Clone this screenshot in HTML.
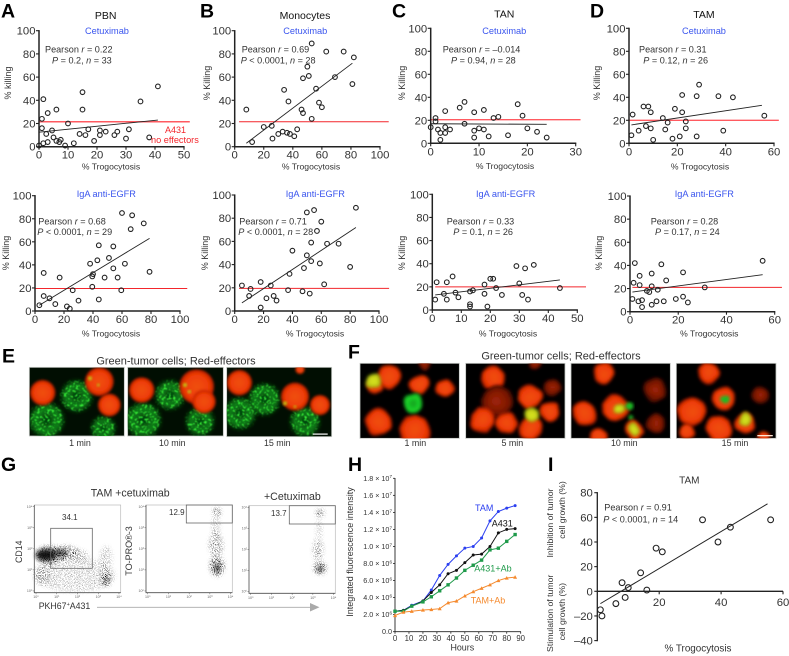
<!DOCTYPE html>
<html lang="en">
<head>
<meta charset="utf-8">
<title>Trogocytosis figure</title>
<style>
html,body{margin:0;padding:0;background:#fff;}
svg{display:block;font-family:"Liberation Sans",Arial,sans-serif;filter:blur(.25px);}
text{fill:#333;}
</style>
</head>
<body>
<svg id="fig" xmlns="http://www.w3.org/2000/svg" width="789" height="656" viewBox="0 0 789 656">
<defs>
<radialGradient id="redGrad"><stop offset="0" stop-color="#f0500e"/><stop offset=".72" stop-color="#ee3c06"/><stop offset="1" stop-color="#b81a00"/></radialGradient>
<radialGradient id="dimGrad"><stop offset="0" stop-color="#a02408"/><stop offset=".7" stop-color="#7a1604"/><stop offset="1" stop-color="#3a0800"/></radialGradient>
<radialGradient id="yelGrad"><stop offset="0" stop-color="#d8e81e"/><stop offset=".7" stop-color="#c8d018"/><stop offset="1" stop-color="#7a9a0c"/></radialGradient>
<radialGradient id="briGrad"><stop offset="0" stop-color="#0e9a1c"/><stop offset=".7" stop-color="#1ed82c"/><stop offset="1" stop-color="#0c8a14"/></radialGradient>
<radialGradient id="grnGrad"><stop offset="0" stop-color="#032a08"/><stop offset=".72" stop-color="#0c8a1c"/><stop offset="1" stop-color="#064c0e"/></radialGradient>
<filter id="soft" x="-30%" y="-30%" width="160%" height="160%"><feGaussianBlur stdDeviation="1.4"/></filter>
<filter id="softGreen" x="-30%" y="-30%" width="160%" height="160%"><feGaussianBlur stdDeviation="2.4"/></filter>
<filter id="mottle" x="-40%" y="-40%" width="180%" height="180%">
<feTurbulence type="fractalNoise" baseFrequency="0.06" numOctaves="2" seed="3" result="n"/>
<feDisplacementMap in="SourceGraphic" in2="n" scale="6" xChannelSelector="R" yChannelSelector="G"/>
<feGaussianBlur stdDeviation="1.7"/>
</filter>
<filter id="greenSpeck" x="-20%" y="-20%" width="140%" height="140%">
<feTurbulence type="fractalNoise" baseFrequency="0.42" numOctaves="2" seed="7" result="n"/>
<feColorMatrix in="n" type="matrix" values="0 0 0 0 0 0 0 0 0 0 0 0 0 0 0 8 0 0 0 -4.4" result="t"/>
<feGaussianBlur in="SourceGraphic" stdDeviation="1.8" result="b"/>
<feComposite in="b" in2="t" operator="in"/>
<feGaussianBlur stdDeviation="0.5"/>
</filter>
<filter id="flowSpeck" x="-40%" y="-40%" width="180%" height="180%">
<feTurbulence type="fractalNoise" baseFrequency="1.1" numOctaves="2" seed="4" result="n"/>
<feColorMatrix in="n" type="matrix" values="0 0 0 0 0 0 0 0 0 0 0 0 0 0 0 10 0 0 0 -5.2" result="t"/>
<feGaussianBlur in="SourceGraphic" stdDeviation="2" result="b"/>
<feComposite in="b" in2="t" operator="in"/>
</filter>
<filter id="flowCore" x="-40%" y="-40%" width="180%" height="180%"><feGaussianBlur stdDeviation="2"/></filter>
</defs>
</svg>
<script>
/* ---------- chart data ---------- */
const ticks100 = [0, 20, 40, 60, 80, 100];
const ticks50 = [0, 10, 20, 30, 40, 50];
const ticks30 = [0, 10, 20, 30];
const ticks60 = [0, 20, 40, 60];

const panelAX = [0,1,1,1.5,1.5,2.5,3,3,4.5,5,6,6,7,7.5,9,10,12,14,15,15,16,17,19,21,21,23,26,27,30,31,35,38,41];
const panelAY = [1,16,24,41,3,11,4,29,14,8,5,32,4,6,1,20,3,11,32,47,10,15,5,10,14,13,10,13,7,15,39,8,52];
const panelAFitX = [0, 41];
const panelAFitY = [12.5, 23];
const panelARedX = [0, 52];
const panelARedY = [21.5, 21.5];

const panelBX = [8,12,20,25.5,26,30,33,34,36,37,38,41,43,46,47,47,50,51,53,53,56,58,60,63,69,75,81,82];
const panelBY = [32,4,17,18,7,11,13,49,12,39,11,9,15,32,59,29,69,61,89,24,50,38,34,82,60,82,54,77];
const panelBFitX = [8, 81];
const panelBFitY = [3, 72];
const panelBRedX = [3, 106];
const panelBRedY = [21.5, 21.5];

const panelCX = [0,1,1,1.5,2,2,3,3,3,4,6,7,7,9,9,9,10,11,11,12,13,14,16,18,19,20,22,24];
const panelCY = [14,22,19,12,9,3,28,14,9,12,31,36,17,11,5,27,13,29,12,6,22,23,7,34,24,13,10,5];
const panelCFitX = [0, 24];
const panelCFitY = [17, 16.5];
const panelCRedX = [0, 31];
const panelCRedY = [20.5, 20.5];

const panelDX = [1,1.5,4,6,8,7,9,9,10,14,15,16,18,19,21,22,22,23.5,23.5,28,28,29,37,39,43,56];
const panelDY = [7,25,11,32,32,15,27,13,3,22,12,18,4,30,6,42,27,19,13,41,6,51,41,11,40,24];
const panelDFitX = [1, 55];
const panelDFitY = [16, 33];
const panelDRedX = [0, 62];
const panelDRedY = [20, 20];

const panelA2X = [3,6,6,10,14,17,22,24,26,30,38,39.5,40,39.5,43,44,44,48,51,54,54,57,59.5,60,62,66,67,75,79];
const panelA2Y = [5,33,13,11,6,29,4,2,18,9,41,30,32,21,44,57,10,29,46,37,56,29,18,85,41,71,83,76,34];
const panelA2FitX = [3, 79];
const panelA2FitY = [5, 63];
const panelA2RedX = [0, 105];
const panelA2RedY = [19.5, 19.5];

const panelB2X = [5,10,11,18,18,22,25,27,29,37,38,40,47,48,50,50,52,53,53,55,57,59,60,62,64,72,80,84];
const panelB2Y = [22,13,19,25,3,11,22,13,9,18,32,52,17,37,85,48,15,59,43,87,69,41,77,23,58,58,38,89];
const panelB2FitX = [5, 84];
const panelB2FitY = [7, 72];
const panelB2RedX = [3, 107];
const panelB2RedY = [19.5, 19.5];

const panelC2X = [1,1.5,4,5,5,7,8,9,13,13,13,14,18,18,19,20,21,22,24,29,30,31,32,33,35,44];
const panelC2Y = [9,24,14,24,9,29,15,11,5,3,16,17,22,14,3,27,27,19,13,38,23,13,36,9,39,19];
const panelC2FitX = [1, 44];
const panelC2FitY = [13, 26];
const panelC2RedX = [1, 53];
const panelC2RedY = [20, 20];

const panelD2X = [1,1.5,2,3.5,4,4,5,5,7,8,9,9,9,11,11.5,13,14,15,19,22,22,24,31,55];
const panelD2Y = [11,25,42,9,23,31,10,4,18,17,33,22,6,9,19,41,9,27,11,13,34,8,21,44];
const panelD2FitX = [1, 55];
const panelD2FitY = [17, 32];
const panelD2RedX = [1, 63];
const panelD2RedY = [21, 21];

const hoursX = [0,6,12,20,26,32,38,44,50,56,62,68,74,80,86];
const seriesTAM = [2.4,2.5,3.1,3.6,4.9,6.6,7.9,8.9,9.8,10,11,13,14.1,14.5,14.8];
const seriesA431 = [2.4,2.5,3.0,3.6,4.6,5.5,6.8,7.2,8.1,9.0,9.1,10,11.6,12,12.1];
const seriesA431Ab = [2.4,2.4,3.0,3.5,4.1,4.8,5.5,6.3,7.2,7.8,8.4,9.6,9.8,10.6,11.4];
const seriesTAMAb = [1.9,2.3,2.4,2.55,2.6,2.7,3.4,3.6,4.2,4.7,5.1,5.5,6,6.3,6.4];
const hXTicks = [0,10,20,30,40,50,60,70,80,90];
const hYTicks = [0,2,4,6,8,10,12,14,16,18];
const hYTickMant = ['0.0','2.0','4.0','6.0','8.0','1.0','1.2','1.4','1.6','1.8'];
const hYTickExp = ['','6','6','6','6','7','7','7','7','7'];

const panelIX = [1,1.5,6,8,9,10,14,16,19,21,34,39,43,56];
const panelIY = [-15,-20,-10,7,-5,3,15,1,35,32,58,40,52,58];
const panelIFitX = [1, 55];
const panelIFitY = [-10, 71];
const iXTicks = [20, 40, 60];
const iYTicks = [-40,-20,0,20,40,60,80];

/* ---------- helpers ---------- */
const NS = 'http://www.w3.org/2000/svg';
const svg = document.getElementById('fig');
function mk(tag, attrs, parent) {
  const el = document.createElementNS(NS, tag);
  for (const k in attrs) el.setAttribute(k, attrs[k]);
  (parent || svg).appendChild(el);
  return el;
}
function linear(d0, d1, r0, r1) {
  return function (v) { return r0 + (v - d0) / (d1 - d0) * (r1 - r0); };
}
/* "a|b|c": odd segments are italic */
function txt(parent, x, y, str, size, attrs) {
  const a = Object.assign({ x: x, y: y, 'font-size': size }, attrs || {});
  const t = mk('text', a, parent);
  String(str).split('|').forEach(function (seg, i) {
    const s = mk('tspan', i % 2 ? { 'font-style': 'italic' } : {}, t);
    s.textContent = seg;
  });
  return t;
}
function rotTxt(parent, x, y, str, size, attrs) {
  const a = Object.assign({ transform: 'rotate(-90 ' + x + ' ' + y + ')', 'text-anchor': 'middle' }, attrs || {});
  return txt(parent, x, y, str, size, a);
}

/* ---------- scatter panels ---------- */
const scatterPanels = [
 {n:'a-pbn',l:'A',lx:1,ly:17.5,xs:panelAX,ys:panelAY,fx:panelAFitX,fy:panelAFitY,rx:panelARedX,ry:panelARedY,xt:ticks50,xm:50,x0:39,x1:184,y0:146.7,y1:30.7,title:'PBN',tx:105.7,ty:19,ab:'Cetuximab',ax:85,ay:34,p1:'Pearson |r| = 0.22',p1x:45,p1y:52.7,p2:'|P| = 0.2, |n| = 33',p2x:52,p2y:63.3,yl:'% killing',ylx:11,yly:83,xlx:111,xly:169.5,redc:'#ff5a60',redw:1.4},
 {n:'b-monocytes',l:'B',lx:200,ly:17.5,xs:panelBX,ys:panelBY,fx:panelBFitX,fy:panelBFitY,rx:panelBRedX,ry:panelBRedY,xt:ticks100,xm:100,x0:234.7,x1:380,y0:146.7,y1:30.7,title:'Monocytes',tx:305,ty:19,ab:'Cetuximab',ax:283.3,ay:34,p1:'Pearson |r| = 0.69',p1x:241.7,p1y:52.7,p2:'|P| < 0.0001, |n| = 28',p2x:240.7,p2y:63.3,yl:'% Killing',ylx:210,yly:83,xlx:311,xly:169.5,redc:'#f3262c',redw:1},
 {n:'c-tan',l:'C',lx:392,ly:17.5,xs:panelCX,ys:panelCY,fx:panelCFitX,fy:panelCFitY,rx:panelCRedX,ry:panelCRedY,xt:ticks30,xm:30,x0:430.7,x1:575.7,y0:143.3,y1:28.3,title:'TAN',tx:504.3,ty:17.5,ab:'Cetuximab',ax:482.3,ay:34,p1:'Pearson |r| = –0.014',p1x:442.7,p1y:52.7,p2:'|P| = 0.94, |n| = 28',p2x:451,p2y:63.3,yl:'% Killing',ylx:405,yly:83,xlx:505,xly:169,redc:'#ff5a60',redw:1.4},
 {n:'d-tam',l:'D',lx:590,ly:17.5,xs:panelDX,ys:panelDY,fx:panelDFitX,fy:panelDFitY,rx:panelDRedX,ry:panelDRedY,xt:ticks60,xm:60,x0:629,x1:774,y0:143.3,y1:28.3,title:'TAM',tx:704,ty:18,ab:'Cetuximab',ax:682,ay:34,p1:'Pearson |r| = 0.31',p1x:639,p1y:52.7,p2:'|P| = 0.12, |n| = 26',p2x:643.3,p2y:63.3,yl:'% Killing',ylx:600,yly:83,xlx:700,xly:169.5,redc:'#ff5a60',redw:1.4},
 {n:'a2-pbn-iga',xs:panelA2X,ys:panelA2Y,fx:panelA2FitX,fy:panelA2FitY,rx:panelA2RedX,ry:panelA2RedY,xt:ticks100,xm:100,x0:35,x1:180,y0:311,y1:195.7,ab:'IgA anti-EGFR',ax:76.7,ay:197,p1:'Pearson |r| = 0.68',p1x:38.3,p1y:224.3,p2:'|P| < 0.0001, |n| = 29',p2x:37.3,p2y:235,yl:'% Killing',ylx:9,yly:253,xlx:111,xly:336.7,redc:'#f3262c',redw:1},
 {n:'b2-monocytes-iga',xs:panelB2X,ys:panelB2Y,fx:panelB2FitX,fy:panelB2FitY,rx:panelB2RedX,ry:panelB2RedY,xt:ticks100,xm:100,x0:234.7,x1:379,y0:311,y1:195,ab:'IgA anti-EGFR',ax:285.7,ay:197,p1:'Pearson |r| = 0.71',p1x:239.3,p1y:224.3,p2:'|P| < 0.0001, |n| = 28',p2x:238.3,p2y:235,yl:'% Killing',ylx:208,yly:253,xlx:315,xly:336.7,redc:'#f3262c',redw:1},
 {n:'c2-tan-iga',xs:panelC2X,ys:panelC2Y,fx:panelC2FitX,fy:panelC2FitY,rx:panelC2RedX,ry:panelC2RedY,xt:ticks50,xm:50,x0:432.3,x1:577.3,y0:310,y1:194.3,ab:'IgA anti-EGFR',ax:476,ay:197,p1:'Pearson |r| = 0.33',p1x:446.7,p1y:224.3,p2:'|P| = 0.1, |n| = 26',p2x:453.3,p2y:235,yl:'% Killing',ylx:405,yly:253,xlx:508,xly:336.7,redc:'#f3262c',redw:1},
 {n:'d2-tam-iga',xs:panelD2X,ys:panelD2Y,fx:panelD2FitX,fy:panelD2FitY,rx:panelD2RedX,ry:panelD2RedY,xt:ticks60,xm:60,x0:630,x1:774.7,y0:311.7,y1:196,ab:'IgA anti-EGFR',ax:674.7,ay:197,p1:'Pearson |r| = 0.28',p1x:650.7,p1y:224.3,p2:'|P| = 0.17, |n| = 24',p2x:655,p2y:235,yl:'% Killing',ylx:602,yly:253,xlx:709.3,xly:336.7,redc:'#f3262c',redw:1}
];

scatterPanels.forEach(function (p) {
  const g = mk('g', {});
  
  
  const sx = linear(0, p.xm, p.x0, p.x1);
  const sy = linear(0, 100, p.y0, p.y1);
  if (p.l) {
    const letter = txt(g, p.lx, p.ly, p.l, 19.5, { 'font-weight': 'bold', style: 'fill:#000' });
    
    
  }
  if (p.title) {
    const title = txt(g, p.tx, p.ty, p.title, 10.5, { 'text-anchor': 'middle', style: 'fill:#111' });
    
    
  }
  const ab = txt(g, p.ax, p.ay, p.ab, 9.2, { style: 'fill:#3a55ee' });
  
  
  const p1 = txt(g, p.p1x, p.p1y, p.p1, 9.1, {});
  
  
  const p2 = txt(g, p.p2x, p.p2y, p.p2, 9.1, {});
  
  
  const yl = rotTxt(g, p.ylx, p.yly, p.yl, 9, {});
  
  
  const xl = txt(g, p.xlx, p.xly, '% Trogocytosis', 8.6, { 'text-anchor': 'middle' });
  
  
  const red = mk('line', { x1: sx(p.rx[0]), x2: sx(p.rx[1]), y1: sy(p.ry[0]), y2: sy(p.ry[1]), stroke: p.redc, 'stroke-width': p.redw }, g);
  
  
  const yAxis = mk('line', { x1: p.x0, x2: p.x0, y1: p.y0 + .7, y2: p.y1 - .6, stroke: '#222', 'stroke-width': 1.5 }, g);
  
  
  const xAxis = mk('line', { x1: p.x0, x2: p.x1 + .6, y1: p.y0, y2: p.y0, stroke: '#222', 'stroke-width': 1.5 }, g);
  
  
  ticks100.forEach(function (v) {
    const tick = mk('line', { x1: p.x0 - 3, x2: p.x0, y1: sy(v), y2: sy(v), stroke: '#222', 'stroke-width': 1.1 }, g);
    
    
    const lab = txt(g, p.x0 - 3.5, sy(v) + 4, v, 11.3, { 'text-anchor': 'end' });
    
    
  });
  p.xt.forEach(function (v) {
    const tick = mk('line', { x1: sx(v), x2: sx(v), y1: p.y0, y2: p.y0 + 3, stroke: '#222', 'stroke-width': 1.1 }, g);
    
    
    const lab = txt(g, sx(v), p.y0 + 12, v, 11.3, { 'text-anchor': 'middle' });
    
    
  });
  const fit = mk('line', { x1: sx(p.fx[0]), x2: sx(p.fx[1]), y1: sy(p.fy[0]), y2: sy(p.fy[1]), stroke: '#222', 'stroke-width': .9 }, g);
  
  
  p.xs.forEach(function (x, i) {
    const pt = mk('circle', { cx: sx(x), cy: sy(p.ys[i]), r: 2.35, fill: 'none', stroke: '#222', 'stroke-width': 1.1 }, g);
    
    
  });
});
const a431a = txt(svg, 165, 133, 'A431', 9, { style: 'fill:#f3262c' });


const a431b = txt(svg, 151, 143, 'no effectors', 9.2, { style: 'fill:#f3262c' });



/* ---------- microscopy panels ---------- */
const cellFills = { r: 'url(#redGrad)', d: 'url(#dimGrad)', y: 'url(#yelGrad)', b: 'url(#briGrad)', g: 'url(#grnGrad)' };
const micrographs = [
 {n:'e-1-min',ox:0,oy:340,x0:88,x1:373,y0:82,y1:288,bg:'#010e02',cells:[['g',230,168,45],['g',140,240,50],['g',310,265,34],['r',128,158,38],['r',298,125,43],['r',328,195,34],['y',270,115,6],['y',295,135,4]]},
 {n:'e-10-min',ox:0,oy:340,x0:383,x1:670,y0:82,y1:288,bg:'#010e02',cells:[['g',510,165,42],['g',430,240,50],['g',600,245,40],['r',425,150,38],['r',590,140,52],['r',612,185,35],['y',555,135,6],['y',568,155,5]]},
 {n:'e-15-min',ox:0,oy:340,x0:680,x1:995,y0:82,y1:290,bg:'#010e02',cells:[['g',793,178,45],['g',720,220,45],['g',915,245,42],['r',718,128,38],['r',885,170,42],['r',960,195,30],['r',900,88,14],['y',855,190,6],['y',885,200,4]]},
 {n:'f-1-min',ox:340,oy:340,x0:60,x1:358,y0:70,y1:295,bg:'#000',cells:[['r',145,110,36],['r',105,140,24],['y',100,125,24],['r',238,135,30],['r',315,145,27],['d',255,72,18],['r',115,245,40],['r',225,270,46],['b',220,190,30]]},
 {n:'f-5-min',ox:340,oy:340,x0:377,x1:675,y0:70,y1:295,bg:'#000',cells:[['r',460,115,36],['d',470,185,48],['d',635,145,28],['r',430,240,38],['r',500,250,33],['r',570,265,36],['r',630,215,31],['r',570,170,36],['y',575,225,24],['d',585,72,18]]},
 {n:'f-10-min',ox:340,oy:340,x0:693,x1:991,y0:70,y1:295,bg:'#000',cells:[['r',790,100,32],['d',945,150,35],['d',950,250,30],['r',735,220,36],['r',775,290,28],['r',825,205,40],['y',838,205,17],['b',865,200,11],['b',872,235,9],['r',885,270,30],['y',885,268,20]]},
 {n:'f-15-min',ox:340,oy:340,x0:1009,x1:1308,y0:70,y1:295,bg:'#000',cells:[['r',1105,100,33],['d',1260,165,27],['r',1055,215,43],['r',1040,275,24],['r',1140,265,38],['r',1150,175,36],['b',1155,175,12],['r',1270,290,18],['r',1215,250,31],['y',1215,238,20]]}
];
micrographs.forEach(function (m, idx) {
  const X = function (z) { return m.ox + z / 3; };
  const Y = function (z) { return m.oy + z / 3; };
  const g = mk('g', {});
  
  
  const clip = mk('clipPath', { id: 'clip' + idx }, g);
  mk('rect', { x: X(m.x0), y: Y(m.y0), width: (m.x1 - m.x0) / 3, height: (m.y1 - m.y0) / 3 }, clip);
  const bg = mk('rect', { x: X(m.x0), y: Y(m.y0), width: (m.x1 - m.x0) / 3, height: (m.y1 - m.y0) / 3, fill: m.bg, stroke: '#c4c8c4', 'stroke-width': .8 }, g);
  
  
  const inner = mk('g', { 'clip-path': 'url(#clip' + idx + ')' }, g);
  const warmFilter = m.ox === 340 ? 'url(#mottle)' : 'url(#soft)';
  m.cells.forEach(function (c) {
    const cell = mk('circle', { cx: X(c[1]), cy: Y(c[2]), r: c[3] / 3, fill: cellFills[c[0]], filter: c[0] === 'g' ? 'url(#softGreen)' : warmFilter }, inner);
    
    
    if (c[0] === 'g') {
      const spk = mk('circle', { cx: X(c[1]), cy: Y(c[2]), r: c[3] / 3, fill: '#38f038', filter: 'url(#greenSpeck)' }, inner);
      
      
    }
  });
});
const sbE = mk('rect', { x: 312.7, y: 433.5, width: 15, height: 1.2, fill: '#fff' });


const sbF = mk('rect', { x: 757.3, y: 435, width: 15.5, height: 1.3, fill: '#ffe8d8' });



const letterE = txt(svg, 2, 362.7, 'E', 19.5, { 'font-weight': 'bold', style: 'fill:#000' });


const letterF = txt(svg, 348, 358.5, 'F', 19.5, { 'font-weight': 'bold', style: 'fill:#000' });


const capE = txt(svg, 176, 364.3, 'Green-tumor cells; Red-effectors', 11, { 'text-anchor': 'middle' });


const capF = txt(svg, 561, 359.5, 'Green-tumor cells; Red-effectors', 11, { 'text-anchor': 'middle' });


const timeLabels = [['1 min',80],['10 min',172.3],['15 min',277.3],['1 min',415.3],['5 min',512.3],['10 min',624.3],['15 min',735]];
timeLabels.forEach(function (t) {
  const lab = txt(svg, t[1], 446, t[0], 8.9, { 'text-anchor': 'middle' });
  
  
});

/* ---------- G: flow cytometry ---------- */
const flowPlots = [
 {n:'cd14-vs-pkh67',x0:34.3,x1:120.7,y0:592.7,y1:505,gate:[50.7,528.3,41.6,40],gl:'34.1',glx:62,gly:520,
  clouds:[[50,555,14,9,.98],[66,553,13,7,.85],[80,556,8,6,.4],[106,578,5,8,1],[106,558,6,12,.35],[42,575,8,10,.45],[75,575,40,17,.3]],cores:[[46,555,10,6,.95],[60,553,8,4,.6],[106,580,2,4,.4]]},
 {n:'to-pro-3-cetuximab',x0:146,x1:232.3,y0:592.7,y1:505,gate:[186.3,505,46,18],gl:'12.9',glx:169,gly:515,
  clouds:[[217,566,7,10,1],[216,545,7,12,.55],[216,527,4,11,.35],[217,512,4,4,.85]],cores:[[217,568,3,5,.6]]},
 {n:'to-pro-3-plus-cetuximab',x0:249,x1:335.3,y0:593.3,y1:505.7,gate:[289.3,505.7,46,18.3],gl:'13.7',glx:271,gly:516,
  clouds:[[320,568,6,6,1],[318,550,5,11,.5],[319,530,3,11,.3],[320,513,4,4,.75]],cores:[[320,569,3,3,.65]]}
];
const flowTickFrac = [0.02, 0.26, 0.5, 0.74, 0.98];
const flowTickLabels = ['10⁰','10¹','10²','10³','10⁴'];
flowPlots.forEach(function (f) {
  const g = mk('g', {});
  
  
  f.clouds.forEach(function (c) {
    const cl = mk('ellipse', { cx: c[0], cy: c[1], rx: c[2], ry: c[3], fill: '#000', opacity: c[4], filter: 'url(#flowSpeck)' }, g);
    
    
  });
  f.cores.forEach(function (c) {
    const cr = mk('ellipse', { cx: c[0], cy: c[1], rx: c[2], ry: c[3], fill: '#111', opacity: c[4], filter: 'url(#flowCore)' }, g);
    
    
  });
  const frame = mk('rect', { x: f.x0, y: f.y1, width: f.x1 - f.x0, height: f.y0 - f.y1, fill: 'none', stroke: '#bbb', 'stroke-width': .7 }, g);
  
  
  const left = mk('path', { d: 'M' + f.x0 + ' ' + f.y1 + 'V' + f.y0 + 'H' + f.x1, fill: 'none', stroke: '#555', 'stroke-width': .8 }, g);
  
  
  flowTickFrac.forEach(function (fr, i) {
    const tx = f.x0 + fr * (f.x1 - f.x0);
    const ty = f.y0 - fr * (f.y0 - f.y1);
    const tk1 = mk('line', { x1: tx, x2: tx, y1: f.y0, y2: f.y0 + 1.5, stroke: '#555', 'stroke-width': .5 }, g);
    
    
    const tk2 = mk('line', { x1: f.x0 - 1.5, x2: f.x0, y1: ty, y2: ty, stroke: '#555', 'stroke-width': .5 }, g);
    
    
    const lx = txt(g, tx, f.y0 + 5.5, flowTickLabels[i], 3.6, { 'text-anchor': 'middle', style: 'fill:#666' });
    
    
    const ly = txt(g, f.x0 - 2, ty + 1, flowTickLabels[i], 3.6, { 'text-anchor': 'end', style: 'fill:#666' });
    
    
  });
  const gate = mk('rect', { x: f.gate[0], y: f.gate[1], width: f.gate[2], height: f.gate[3], fill: 'none', stroke: '#666', 'stroke-width': .8 }, g);
  
  
  const gl = txt(g, f.glx, f.gly, f.gl, 8, {});
  
  
});
const letterG = txt(svg, 1, 471, 'G', 19.5, { 'font-weight': 'bold', style: 'fill:#000' });


const gT1 = txt(svg, 90.7, 496.7, 'TAM +cetuximab', 10.6, {});


const gT2 = txt(svg, 264, 500, '+Cetuximab', 10.6, {});


const cd14 = rotTxt(svg, 22, 551.7, 'CD14', 8.8, {});


const topro = rotTxt(svg, 132, 551, 'TO-PRO®-3', 9, {});


const pkh = txt(svg, 38.7, 609, 'PKH67', 8.8, {});


const pkhSup = mk('tspan', { dy: -3, 'font-size': 5.5 }, pkh);
pkhSup.textContent = '+';
const pkhRest = mk('tspan', { dy: 3 }, pkh);
pkhRest.textContent = 'A431';
const arrowLine = mk('line', { x1: 97, x2: 311, y1: 607.3, y2: 607.3, stroke: '#aaa', 'stroke-width': .9 });


const arrowHead = mk('polygon', { points: '310,603 319.5,607.3 310,611.5', fill: '#aaa' });



/* ---------- H: line chart ---------- */
const hX = linear(0, 90, 395, 520.7);
const hY = linear(0, 18, 631.7, 478.3);
const hGroup = mk('g', {});


const letterH = txt(hGroup, 348, 471, 'H', 19.5, { 'font-weight': 'bold', style: 'fill:#000' });


const hYAxis = mk('line', { x1: 395, x2: 395, y1: 632, y2: 478, stroke: '#222', 'stroke-width': .9 }, hGroup);


const hXAxis = mk('line', { x1: 395, x2: 521, y1: 631.7, y2: 631.7, stroke: '#222', 'stroke-width': .9 }, hGroup);


hYTicks.forEach(function (v, i) {
  const tick = mk('line', { x1: 393, x2: 395, y1: hY(v), y2: hY(v), stroke: '#222', 'stroke-width': .8 }, hGroup);
  
  
  const lab = txt(hGroup, 392, hY(v) + 2.5, hYTickMant[i] + (hYTickExp[i] ? ' × 10' : ''), 7.2, { 'text-anchor': 'end' });
  
  
  if (hYTickExp[i]) {
    const sup = mk('tspan', { dy: -2.6, 'font-size': 4.6 }, lab);
    sup.textContent = hYTickExp[i];
  }
});
hXTicks.forEach(function (v) {
  const tick = mk('line', { x1: hX(v), x2: hX(v), y1: 631.7, y2: 633.7, stroke: '#222', 'stroke-width': .8 }, hGroup);
  
  
  const lab = txt(hGroup, hX(v), 641, v, 7.8, { 'text-anchor': 'middle' });
  
  
});
const hXTitle = txt(hGroup, 462.3, 650.7, 'Hours', 8.9, { 'text-anchor': 'middle' });


const hYTitle = rotTxt(hGroup, 353, 552, 'Integrated fluorescence intensity', 9, {});


const hSeries = [
 {n:'tam',v:seriesTAM,c:'#2b3ff0',m:'circle'},
 {n:'a431',v:seriesA431,c:'#111',m:'circle'},
 {n:'a431-ab',v:seriesA431Ab,c:'#1f9a4a',m:'square'},
 {n:'tam-ab',v:seriesTAMAb,c:'#f58a2e',m:'tri'}
];
hSeries.forEach(function (s) {
  const pts = hoursX.map(function (h, i) { return hX(h) + ',' + hY(s.v[i]); }).join(' ');
  const line = mk('polyline', { points: pts, fill: 'none', stroke: s.c, 'stroke-width': 1 }, hGroup);
  
  
  hoursX.forEach(function (h, i) {
    const cx = hX(h), cy = hY(s.v[i]);
    let mark;
    if (s.m === 'circle') mark = mk('circle', { cx: cx, cy: cy, r: 1.5, fill: s.c }, hGroup);
    else if (s.m === 'square') mark = mk('rect', { x: cx - 1.7, y: cy - 1.7, width: 3.4, height: 3.4, fill: s.c }, hGroup);
    else mark = mk('polygon', { points: (cx - 2) + ',' + (cy + 1.6) + ' ' + (cx + 2) + ',' + (cy + 1.6) + ' ' + cx + ',' + (cy - 2), fill: s.c }, hGroup);
    
    
  });
});
const hLabels = [['TAM',475,511,'#2b3ff0'],['A431',491.7,526.7,'#111'],['A431+Ab',474.3,571.7,'#1f9a4a'],['TAM+Ab',470.7,603.3,'#f58a2e']];
hLabels.forEach(function (l) {
  const lab = txt(hGroup, l[1], l[2], l[0], 9, { style: 'fill:' + l[3] });
  
  
});

/* ---------- I: scatter ---------- */
const iX = linear(0, 60, 597.3, 783);
const iY = linear(0, 80, 591.3, 492.7);
const iGroup = mk('g', {});


const letterI = txt(iGroup, 548, 471, 'I', 19.5, { 'font-weight': 'bold', style: 'fill:#000' });


const iTitle = txt(iGroup, 689.3, 483.3, 'TAM', 10, { 'text-anchor': 'middle' });


const iP1 = txt(iGroup, 604.3, 510.7, 'Pearson |r| = 0.91', 9.1, {});


const iP2 = txt(iGroup, 603.3, 522.3, '|P| < 0.0001, |n| = 14', 9.1, {});


const iYAxis = mk('line', { x1: iX(0), x2: iX(0), y1: iY(80) - .6, y2: iY(-40) + .6, stroke: '#222', 'stroke-width': 1.3 }, iGroup);


const iXAxis = mk('line', { x1: iX(0), x2: iX(60), y1: iY(0), y2: iY(0), stroke: '#222', 'stroke-width': 1.3 }, iGroup);


iYTicks.forEach(function (v) {
  const tick = mk('line', { x1: iX(0) - 3, x2: iX(0), y1: iY(v), y2: iY(v), stroke: '#222', 'stroke-width': 1.1 }, iGroup);
  
  
  const lab = txt(iGroup, iX(0) - 4.5, iY(v) + 4, v < 0 ? '–' + (-v) : v, 11.3, { 'text-anchor': 'end' });
  
  
});
iXTicks.forEach(function (v) {
  const tick = mk('line', { x1: iX(v), x2: iX(v), y1: iY(0), y2: iY(0) + 3, stroke: '#222', 'stroke-width': 1.1 }, iGroup);
  
  
  const lab = txt(iGroup, iX(v), iY(0) + 14.5, v, 11.3, { 'text-anchor': 'middle' });
  
  
});
const iXTitle = txt(iGroup, 698, 651.7, '% Trogocytosis', 9.9, { 'text-anchor': 'middle' });


const iInh1 = rotTxt(iGroup, 553, 523, 'Inhibition of tumor', 8.7, {});


const iInh2 = rotTxt(iGroup, 565, 510, 'cell growth (%)', 8.7, {});


const iSti1 = rotTxt(iGroup, 553, 613.3, 'Stimulation of tumor', 8.7, {});


const iSti2 = rotTxt(iGroup, 565, 611.7, 'cell growth (%)', 8.7, {});


const iFit = mk('line', { x1: iX(panelIFitX[0]), x2: iX(panelIFitX[1]), y1: iY(panelIFitY[0]), y2: iY(panelIFitY[1]), stroke: '#222', 'stroke-width': 1 }, iGroup);


panelIX.forEach(function (x, i) {
  const pt = mk('circle', { cx: iX(x), cy: iY(panelIY[i]), r: 2.9, fill: 'none', stroke: '#222', 'stroke-width': 1.1 }, iGroup);
  
  
});
</script>
</body>
</html>
